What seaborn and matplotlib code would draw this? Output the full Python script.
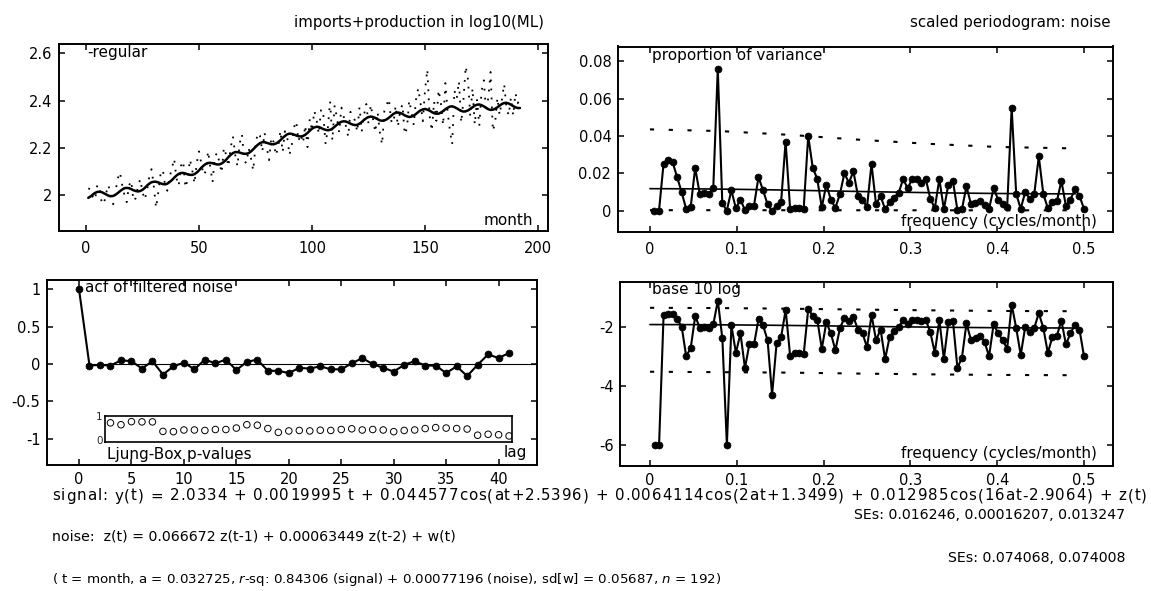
import numpy as np
import pandas as pd
import matplotlib
matplotlib.use("Agg")
import matplotlib.pyplot as plt
import seaborn as sns

# ---------------- data ----------------
n_months = 192
months = list(range(1, 193))
irregular = [
    2.030, 2.026, 1.994, 1.981, 2.045, 2.036, 1.964, 1.969, 2.014, 2.044, 1.977, 1.963,
    2.013, 2.070, 2.098, 2.045, 2.001, 1.972, 2.041, 2.062, 1.977, 1.989, 2.037, 2.069,
    2.014, 1.982, 2.022, 2.080, 2.111, 2.038, 1.948, 2.015, 2.091, 2.108, 2.042, 2.020,
    2.077, 2.115, 2.155, 2.074, 2.041, 2.125, 2.145, 2.033, 2.069, 2.152, 2.107, 2.050,
    2.137, 2.186, 2.137, 2.086, 2.103, 2.187, 2.118, 2.056, 2.163, 2.181, 2.141, 2.095,
    2.202, 2.171, 2.122, 2.201, 2.249, 2.173, 2.123, 2.221, 2.258, 2.146, 2.136, 2.199,
    2.156, 2.105, 2.215, 2.264, 2.251, 2.185, 2.265, 2.202, 2.149, 2.246, 2.226, 2.169,
    2.205, 2.273, 2.183, 2.271, 2.248, 2.171, 2.210, 2.287, 2.313, 2.230, 2.259, 2.221,
    2.296, 2.204, 2.323, 2.272, 2.357, 2.320, 2.259, 2.365, 2.340, 2.217, 2.285, 2.397,
    2.232, 2.380, 2.328, 2.266, 2.371, 2.333, 2.292, 2.248, 2.353, 2.329, 2.317, 2.268,
    2.373, 2.270, 2.339, 2.386, 2.301, 2.383, 2.321, 2.267, 2.352, 2.267, 2.215, 2.357,
    2.381, 2.408, 2.316, 2.304, 2.379, 2.290, 2.358, 2.384, 2.258, 2.284, 2.401, 2.353,
    2.297, 2.404, 2.452, 2.389, 2.313, 2.445, 2.532, 2.338, 2.272, 2.397, 2.315, 2.445,
    2.390, 2.296, 2.474, 2.350, 2.275, 2.216, 2.443, 2.408, 2.482, 2.307, 2.404, 2.545,
    2.489, 2.335, 2.452, 2.299, 2.403, 2.294, 2.441, 2.486, 2.350, 2.414, 2.521, 2.272,
    2.306, 2.412, 2.339, 2.406, 2.470, 2.371, 2.338, 2.413, 2.337, 2.432, 2.389, 2.409,
]
fitted = [
    1.990, 1.996, 2.004, 2.011, 2.015, 2.016, 2.014, 2.009, 2.004, 1.999, 1.997, 1.998,
    2.003, 2.010, 2.018, 2.025, 2.031, 2.032, 2.031, 2.027, 2.022, 2.019, 2.017, 2.019,
    2.024, 2.032, 2.042, 2.050, 2.056, 2.058, 2.058, 2.055, 2.051, 2.048, 2.047, 2.050,
    2.057, 2.065, 2.075, 2.084, 2.091, 2.095, 2.095, 2.093, 2.089, 2.087, 2.087, 2.090,
    2.097, 2.106, 2.117, 2.126, 2.133, 2.137, 2.138, 2.136, 2.133, 2.131, 2.131, 2.135,
    2.142, 2.151, 2.162, 2.171, 2.179, 2.183, 2.183, 2.181, 2.178, 2.176, 2.176, 2.179,
    2.186, 2.195, 2.205, 2.214, 2.221, 2.225, 2.225, 2.222, 2.219, 2.216, 2.216, 2.219,
    2.225, 2.233, 2.243, 2.251, 2.258, 2.261, 2.260, 2.257, 2.253, 2.250, 2.249, 2.251,
    2.256, 2.264, 2.273, 2.282, 2.287, 2.290, 2.289, 2.285, 2.280, 2.277, 2.275, 2.277,
    2.282, 2.290, 2.298, 2.306, 2.311, 2.313, 2.312, 2.308, 2.303, 2.299, 2.297, 2.298,
    2.303, 2.310, 2.319, 2.326, 2.331, 2.333, 2.331, 2.327, 2.322, 2.317, 2.315, 2.317,
    2.321, 2.328, 2.336, 2.344, 2.349, 2.350, 2.348, 2.344, 2.338, 2.334, 2.331, 2.333,
    2.337, 2.344, 2.352, 2.359, 2.363, 2.365, 2.362, 2.358, 2.352, 2.347, 2.345, 2.345,
    2.350, 2.356, 2.364, 2.370, 2.375, 2.376, 2.373, 2.368, 2.362, 2.357, 2.354, 2.355,
    2.359, 2.365, 2.372, 2.379, 2.383, 2.384, 2.381, 2.376, 2.370, 2.364, 2.361, 2.362,
    2.366, 2.372, 2.379, 2.386, 2.390, 2.391, 2.388, 2.383, 2.377, 2.372, 2.369, 2.369,
]

harmonics = list(range(1, 97))
pgram = [
    0, 0, 0.025, 0.027, 0.026, 0.018, 0.010, 0.001, 0.0019, 0.023,
    0.009, 0.0095, 0.0088, 0.012, 0.076, 0.004, 0, 0.011, 0.0013, 0.006,
    0.0004, 0.0027, 0.0025, 0.018, 0.011, 0.0035, 0.00005, 0.0028, 0.0045, 0.037,
    0.001, 0.0013, 0.0013, 0.0012, 0.040, 0.023, 0.017, 0.0018, 0.014, 0.006,
    0.0016, 0.0087, 0.020, 0.015, 0.021, 0.008, 0.006, 0.002, 0.025, 0.0035,
    0.008, 0.0008, 0.0045, 0.007, 0.0095, 0.017, 0.012, 0.017, 0.017, 0.015,
    0.017, 0.0065, 0.0013, 0.017, 0.0008, 0.014, 0.016, 0.0004, 0.0009, 0.013,
    0.0035, 0.004, 0.005, 0.003, 0.001, 0.012, 0.006, 0.0035, 0.0018, 0.055,
    0.009, 0.0011, 0.010, 0.0065, 0.009, 0.029, 0.009, 0.0013, 0.0045, 0.005,
    0.016, 0.0025, 0.006, 0.0115, 0.008, 0.001,
]
spec_freq = [0.0, 0.05, 0.1, 0.15, 0.2, 0.25, 0.3, 0.35, 0.4, 0.45, 0.49]
spec_vals = [0.0118, 0.01171, 0.01146, 0.01110, 0.01066, 0.01022, 0.00982, 0.00948, 0.00923, 0.00907, 0.00903]
band_freq = [0.0, 0.08, 0.16, 0.24, 0.32, 0.40, 0.48]
band_upper = [0.0435, 0.0426, 0.0406, 0.0380, 0.0358, 0.0341, 0.0334]
band_lower = [0.00030, 0.00029, 0.00028, 0.00026, 0.000245, 0.000234, 0.000229]

acf_lags = list(range(0, 42))
acf_vals = [
    1.0, -0.02, -0.01, -0.02, 0.05, 0.04, -0.06, 0.04, -0.14, -0.03,
    0.02, -0.07, 0.06, 0.01, 0.06, -0.08, 0.03, 0.06, -0.09, -0.09,
    -0.12, -0.05, -0.06, -0.03, -0.07, -0.07, 0.01, 0.08, 0.00, -0.05,
    -0.10, -0.01, 0.04, -0.02, -0.02, -0.12, -0.03, -0.16, -0.01, 0.13,
    0.08, 0.15,
]
lb_lags = list(range(3, 42))
lb_pvals = [
    0.70, 0.62, 0.75, 0.74, 0.74,
    0.34, 0.33, 0.40, 0.40, 0.38, 0.42, 0.42, 0.48, 0.62, 0.60, 0.46,
    0.30, 0.36, 0.38, 0.36, 0.39, 0.38, 0.42, 0.45, 0.40, 0.42, 0.40,
    0.33, 0.38, 0.40, 0.46, 0.50, 0.48, 0.46, 0.44,
    0.18, 0.22, 0.20, 0.15,
]

month_ticks = [0, 50, 100, 150, 200]
month_ticklabels = ["0", "50", "100", "150", "200"]
level_ticks = [2.0, 2.2, 2.4, 2.6]
level_ticklabels = ["2", "2.2", "2.4", "2.6"]
freq_ticks = [0, 0.1, 0.2, 0.3, 0.4, 0.5]
freq_ticklabels = ["0", "0.1", "0.2", "0.3", "0.4", "0.5"]
prop_ticks = [0, 0.02, 0.04, 0.06, 0.08]
prop_ticklabels = ["0", "0.02", "0.04", "0.06", "0.08"]
lag_ticks = [0, 5, 10, 15, 20, 25, 30, 35, 40]
lag_ticklabels = ["0", "5", "10", "15", "20", "25", "30", "35", "40"]
acf_ticks = [-1, -0.5, 0, 0.5, 1]
acf_ticklabels = ["-1", "-0.5", "0", "0.5", "1"]
log_ticks = [-6, -4, -2]
log_ticklabels = ["-6", "-4", "-2"]

signal_text = ("signal: y(t) = 2.0334 + 0.0019995 t + 0.044577cos(at+2.5396) + "
               "0.0064114cos(2at+1.3499) + 0.012985cos(16at-2.9064) + z(t)")
signal_se_text = "SEs: 0.016246, 0.00016207, 0.013247"
noise_text = "noise:  z(t) = 0.066672 z(t-1) + 0.00063449 z(t-2) + w(t)"
noise_se_text = "SEs: 0.074068, 0.074008"
info_text = ("( t = month, a = 0.032725, $r$-sq: 0.84306 (signal) + 0.00077196 (noise), "
             "sd[w] = 0.05687, $n$ = 192)")

# ---------------- derived tables ----------------
series_df = pd.DataFrame({"month": months, "irregular": irregular, "fitted": fitted})
freqs = np.array(harmonics) / n_months
pg_df = pd.DataFrame({"freq": freqs, "prop": pgram,
                      "log10": np.log10(np.clip(pgram, 1e-6, None))})
acf_df = pd.DataFrame({"lag": acf_lags, "acf": acf_vals})
lb_df = pd.DataFrame({"lag": lb_lags, "p": lb_pvals})

# ---------------- style ----------------
sns.set_theme(style="ticks")
plt.rcParams["font.family"] = ["DejaVu Sans"]
plt.rcParams["axes.linewidth"] = 1.4
plt.rcParams["text.color"] = "black"
plt.rcParams["axes.edgecolor"] = "black"

W, H = 1151, 591
fig = plt.figure(figsize=(W / 100, H / 100), dpi=100)


def px_axes(left, top, right, bottom):
    return fig.add_axes([left / W, 1 - bottom / H, (right - left) / W, (bottom - top) / H])


def style(ax, xpad):
    for s in ax.spines.values():
        s.set_linewidth(1.4)
        s.set_color("black")
    ax.tick_params(direction="in", top=True, right=True, length=4, width=1.1,
                   color="black", labelsize=10.5, labelcolor="black")
    ax.tick_params(axis="x", pad=xpad)
    ax.tick_params(axis="y", pad=4.5)
    ax.set_xlabel("")
    ax.set_ylabel("")
    ax.grid(False)


TXT = dict(fontsize=11, color="black")
DOTS = (0, (1, 4))
BAND = (0, (2, 7))

# ---- top left: series ----
ax1 = px_axes(59, 44, 548, 230.7)
sns.lineplot(data=series_df, x="month", y="irregular", ax=ax1, color="black",
             lw=1.3, linestyle=DOTS)
sns.lineplot(data=series_df, x="month", y="fitted", ax=ax1, color="black", lw=1.8)
ax1.set_xlim(-11.95, 204.4)
ax1.set_ylim(1.8515, 2.639)
ax1.set_xticks(month_ticks, month_ticklabels)
ax1.set_yticks(level_ticks, level_ticklabels)
style(ax1, 7.5)
ax1.text(0.058, 0.952, "-regular", transform=ax1.transAxes, ha="left", va="center", **TXT)
ax1.text(0.969, 0.057, "month", transform=ax1.transAxes, ha="right", va="center", **TXT)

# ---- top right: periodogram ----
ax2 = px_axes(617.5, 46.5, 1113, 231.7)
sns.lineplot(data=pg_df, x="freq", y="prop", ax=ax2, color="black", lw=1.5,
             marker="o", markersize=5, markeredgecolor="black", markeredgewidth=0.5)
sns.lineplot(x=spec_freq, y=spec_vals, ax=ax2, color="black", lw=1.2)
sns.lineplot(x=band_freq, y=band_upper, ax=ax2, color="black", lw=1.5, linestyle=BAND)
sns.lineplot(x=band_freq, y=band_lower, ax=ax2, color="black", lw=1.5, linestyle=BAND)
ax2.set_xlim(-0.0374, 0.5334)
ax2.set_ylim(-0.0112, 0.0878)
ax2.set_xticks(freq_ticks, freq_ticklabels)
ax2.set_yticks(prop_ticks, prop_ticklabels)
style(ax2, 7.5)
ax2.text(0.07, 0.954, "proportion of variance", transform=ax2.transAxes,
         ha="left", va="center", **TXT)
ax2.text(0.968, 0.054, "frequency (cycles/month)", transform=ax2.transAxes,
         ha="right", va="center", **TXT)

# ---- bottom left: acf ----
ax3 = px_axes(46.7, 280, 537, 465)
ax3.axhline(0, color="black", lw=0.8, xmin=0.08)
sns.lineplot(data=acf_df, x="lag", y="acf", ax=ax3, color="black", lw=1.5,
             marker="o", markersize=5, markeredgecolor="black", markeredgewidth=0.5)
ax3.set_xlim(-3.08, 43.66)
ax3.set_ylim(-1.349, 1.124)
ax3.set_xticks(lag_ticks, lag_ticklabels)
ax3.set_yticks(acf_ticks, acf_ticklabels)
style(ax3, 5)
ax3.text(0.078, 0.962, "acf of filtered noise", transform=ax3.transAxes,
         ha="left", va="center", **TXT)
ax3.text(0.123, 0.056, "Ljung-Box p-values", transform=ax3.transAxes,
         ha="left", va="center", **TXT)
ax3.text(0.98, 0.065, "lag", transform=ax3.transAxes, ha="right", va="center", **TXT)

axin = ax3.inset_axes([2.5, -1.04, 38.8, 0.35], transform=ax3.transData)
sns.scatterplot(data=lb_df, x="lag", y="p", ax=axin, marker="o", s=22,
                facecolors="none", edgecolors="black", linewidth=0.7)
axin.set_xlim(2.5, 41.3)
axin.set_ylim(-0.1, 1.0)
axin.set_xticks([])
axin.set_yticks([0, 1], ["0", "1"])
axin.tick_params(axis="y", length=0, labelsize=7.5, pad=2)
axin.set_xlabel("")
axin.set_ylabel("")
for s in axin.spines.values():
    s.set_linewidth(1.2)
    s.set_color("black")

# ---- bottom right: log periodogram ----
ax4 = px_axes(620, 281.7, 1113, 466)
sns.lineplot(data=pg_df, x="freq", y="log10", ax=ax4, color="black", lw=1.5,
             marker="o", markersize=5, markeredgecolor="black", markeredgewidth=0.5)
sns.lineplot(x=spec_freq, y=np.log10(spec_vals), ax=ax4, color="black", lw=1.2)
sns.lineplot(x=band_freq, y=np.log10(band_upper), ax=ax4, color="black", lw=1.5,
             linestyle=BAND)
sns.lineplot(x=band_freq, y=np.log10(band_lower), ax=ax4, color="black", lw=1.5,
             linestyle=BAND)
ax4.set_xlim(-0.0346, 0.5334)
ax4.set_ylim(-6.71, -0.479)
ax4.set_xticks(freq_ticks, freq_ticklabels)
ax4.set_yticks(log_ticks, log_ticklabels)
style(ax4, 5)
ax4.text(0.065, 0.96, "base 10 log", transform=ax4.transAxes, ha="left", va="center", **TXT)
ax4.text(0.9675, 0.07, "frequency (cycles/month)", transform=ax4.transAxes,
         ha="right", va="center", **TXT)

# ---- titles ----
fig.text(544 / W, 1 - 22 / H, "imports+production in log10(ML)", ha="right",
         va="center", fontsize=10.8)
fig.text(1110 / W, 1 - 22 / H, "scaled periodogram: noise", ha="right",
         va="center", fontsize=10.8)

# ---- bottom equations ----
# the signal line is letter-spaced across the full width, as in the original
renderer = fig.canvas.get_renderer()
SIG_FS = 10.8
probe = fig.text(0, 0, "|", fontsize=SIG_FS)
bar_w = probe.get_window_extent(renderer).width
natural_x = []
for i in range(len(signal_text) + 1):
    probe.set_text(signal_text[:i] + "|")
    natural_x.append(probe.get_window_extent(renderer).width - bar_w)
probe.remove()
line_left, line_right = 52, 1147
track = (line_right - line_left - natural_x[-1]) / (len(signal_text) - 1)
for i, ch in enumerate(signal_text):
    if ch != " ":
        fig.text((line_left + natural_x[i] + i * track) / W, 1 - 496 / H, ch,
                 fontsize=SIG_FS, va="center", ha="left", color="black")

EQ = dict(fontsize=10.2, va="center", color="black")
fig.text(1125 / W, 1 - 515 / H, signal_se_text, ha="right", **EQ)
fig.text(52 / W, 1 - 536 / H, noise_text, ha="left", **EQ)
fig.text(1125 / W, 1 - 558 / H, noise_se_text, ha="right", **EQ)
fig.text(52 / W, 1 - 579 / H, info_text, ha="left", fontsize=9.6, va="center",
         color="black")

fig.savefig("out.png", dpi=100)
